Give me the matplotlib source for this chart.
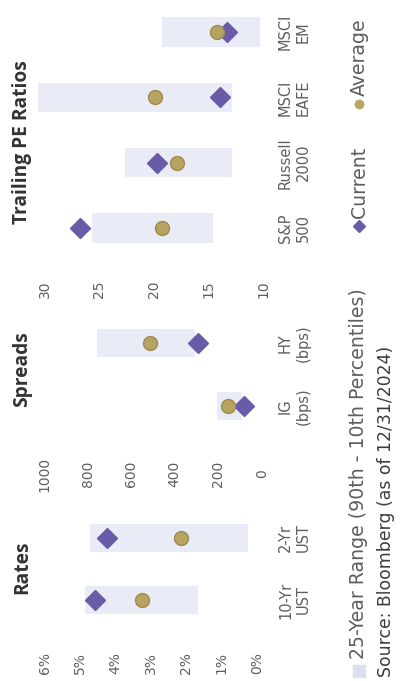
import matplotlib
matplotlib.use("Agg")
import matplotlib.pyplot as plt
from matplotlib.lines import Line2D
from matplotlib.patches import Rectangle

# ---- data -------------------------------------------------------------
rate_cats = ["10-Yr\nUST", "2-Yr\nUST"]
rate_current = [4.57, 4.24]
rate_average = [3.26, 2.15]
rate_p90 = [4.86, 4.72]
rate_p10 = [1.66, 0.25]
rate_ticks = [0, 1, 2, 3, 4, 5, 6]
rate_ticklabels = ["0%", "1%", "2%", "3%", "4%", "5%", "6%"]

spread_cats = ["IG\n(bps)", "HY\n(bps)"]
spread_current = [82, 292]
spread_average = [156, 514]
spread_p90 = [206, 757]
spread_p10 = [92, 307]
spread_ticks = [0, 200, 400, 600, 800, 1000]
spread_ticklabels = ["0", "200", "400", "600", "800", "1000"]

pe_cats = ["S&P\n500", "Russell\n2000", "MSCI\nEAFE", "MSCI\nEM"]
pe_current = [26.8, 19.7, 13.9, 13.3]
pe_average = [19.3, 17.9, 19.9, 14.2]
pe_p90 = [25.7, 22.7, 30.6, 19.3]
pe_p10 = [14.6, 12.8, 12.8, 10.3]
pe_ticks = [10, 15, 20, 25, 30]
pe_ticklabels = ["10", "15", "20", "25", "30"]

# ---- style --------------------------------------------------------------
W, H = 400, 681
RANGE_C = "#e9ebf7"
CUR_C = "#6a5ba8"
AVG_C = "#b8a462"
AVG_EDGE = "#a08a4c"
TICK_C = "#5e5e5e"
TITLE_C = "#333333"
plt.rcParams["font.family"] = ["DejaVu Sans"]

fig = plt.figure(figsize=(W / 100, H / 100), dpi=100)
fig.patch.set_facecolor("white")


def fx(x):
    return x / W


def fy(y):
    return 1 - y / H


def panel(top, bottom, base, step, x0, k, cats, cur, avg, p90, p10,
          ticks, ticklabels, tick_y, title, title_y):
    left, right = 30, 272
    ax = fig.add_axes([fx(left), fy(bottom), fx(right) - fx(left),
                       fy(top) - fy(bottom)])
    # value axis runs right-to-left, categories bottom-to-top
    ax.set_xlim((x0 - left) / k, (x0 - right) / k)
    ax.set_ylim((base - bottom) / step, (base - top) / step)
    pos = list(range(len(cats)))
    ax.barh(pos, [a - b for a, b in zip(p90, p10)], left=p10, height=0.45,
            color=RANGE_C, zorder=1)
    ax.plot(cur, pos, ls="none", marker="D", ms=10, color=CUR_C, zorder=3)
    ax.plot(avg, pos, ls="none", marker="o", ms=10, color=AVG_C,
            mec=AVG_EDGE, mew=1, zorder=4)
    for s in ax.spines.values():
        s.set_visible(False)
    ax.set_facecolor("none")
    ax.set_xticks(ticks)
    ax.set_xticklabels(ticklabels)
    pad_px = tick_y - bottom
    ax.tick_params(axis="x", length=0, pad=pad_px * 0.72, colors=TICK_C,
                   labelsize=10)
    for lab in ax.get_xticklabels():
        lab.set_rotation(90)
        lab.set_va("center")
        lab.set_ha("center")
    ax.yaxis.tick_right()
    ax.set_yticks(pos)
    ax.set_yticklabels(cats)
    ax.tick_params(axis="y", length=0, pad=(278 - right) * 0.72,
                   colors=TICK_C, labelsize=10.5)
    for lab in ax.get_yticklabels():
        lab.set_rotation(90)
        lab.set_va("center")
        lab.set_ha("left")
        lab.set_multialignment("center")
    fig.text(fx(22), fy(title_y), title, rotation=90, ha="center",
             va="center", fontsize=13.8, fontweight="bold", color=TITLE_C,
             family="Open Sans")
    return ax


panel(0, 262, 228, 65.3, 372, 10.9, pe_cats, pe_current, pe_average,
      pe_p90, pe_p10, pe_ticks, pe_ticklabels, 289, "Trailing PE Ratios", 142)
panel(305, 440, 406, 63, 262, 0.218, spread_cats, spread_current,
      spread_average, spread_p90, spread_p10, spread_ticks, spread_ticklabels,
      474, "Spreads", 369)
panel(500, 635, 600, 62, 256.7, 35.3, rate_cats, rate_current, rate_average,
      rate_p90, rate_p10, rate_ticks, rate_ticklabels, 663, "Rates", 567)

# ---- legend -------------------------------------------------------------
LX = 359
fig.add_artist(Rectangle((fx(LX - 6), fy(677)), fx(12), fy(665) - fy(677),
                         transform=fig.transFigure, color="#dcdff0"))
fig.text(fx(LX), fy(659), "25-Year Range (90th - 10th Percentiles)",
         rotation=90, ha="center", va="bottom", fontsize=13.6, color=TICK_C)
fig.add_artist(Line2D([fx(LX)], [fy(226)], transform=fig.transFigure,
                      marker="D", ms=6, color=CUR_C, ls="none"))
fig.text(fx(LX), fy(218), "Current", rotation=90, ha="center", va="bottom",
         fontsize=13.6, color=TICK_C)
fig.add_artist(Line2D([fx(LX)], [fy(104)], transform=fig.transFigure,
                      marker="o", ms=6, color=AVG_C, ls="none"))
fig.text(fx(LX), fy(96), "Average", rotation=90, ha="center", va="bottom",
         fontsize=13.6, color=TICK_C)

fig.text(fx(386), fy(677), "Source: Bloomberg (as of 12/31/2024)",
         rotation=90, ha="center", va="bottom", fontsize=12.4,
         color="#3c3c3c")

fig.savefig("out.png", dpi=100, facecolor="white")
